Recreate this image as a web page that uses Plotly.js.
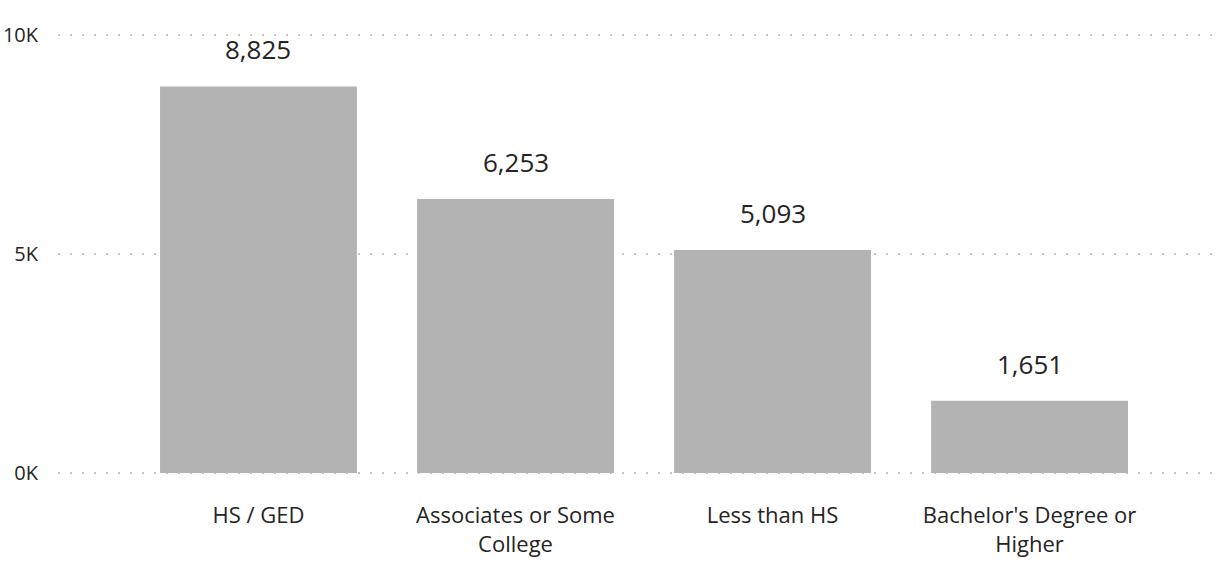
<!DOCTYPE html>
<html>
<head>
<meta charset="utf-8">
<script src="https://cdn.plot.ly/plotly-3.0.1.min.js"></script>
<style>html,body{margin:0;padding:0;background:#fff;}#chart{width:1229px;height:563px;}</style>
</head>
<body>
<div id="chart"></div>
<script>
const categories = ["HS / GED", "Associates or Some<br>College", "Less than HS", "Bachelor's Degree or<br>Higher"];
const values = [8825, 6253, 5093, 1651];
const tickValues = [0, 5000, 10000];
const tickLabels = ["0K", "5K", "10K"];

const FONT = '"Segoe UI", "Open Sans", "Noto Sans", sans-serif';

const trace = {
  type: 'bar',
  x: categories,
  y: values,
  marker: {color: '#b3b3b3'},
  hoverinfo: 'none'
};

const annotations = categories.map((c, i) => ({
  x: c, y: values[i], xref: 'x', yref: 'y',
  text: values[i].toLocaleString('en-US'),
  showarrow: false, yanchor: 'bottom', yshift: 17,
  font: {family: FONT, size: 26, color: '#252423'}
}));

const layout = {
  width: 1229, height: 563,
  margin: {l: 58, r: 10, t: 30, b: 85},
  paper_bgcolor: '#fff', plot_bgcolor: '#fff',
  bargap: 0.234,
  showlegend: false,
  font: {family: FONT, color: '#252423'},
  xaxis: {
    type: 'category',
    range: [-0.78, 3.737],
    showgrid: false, zeroline: false, showline: false,
    ticks: '', ticklabelstandoff: 22,
    tickfont: {family: FONT, size: 22, color: '#252423'}
  },
  yaxis: {
    range: [-114.155, 10114.155],
    tickvals: tickValues, ticktext: tickLabels,
    showgrid: true, gridcolor: '#c4c4c4', gridwidth: 1.5, griddash: '2px,10px',
    zeroline: false, showline: false,
    ticks: '', ticklabelstandoff: 19,
    tickfont: {family: FONT, size: 20, color: '#252423'}
  },
  annotations: annotations
};

Plotly.newPlot('chart', [trace], layout, {displayModeBar: false, staticPlot: true});
</script>
</body>
</html>
